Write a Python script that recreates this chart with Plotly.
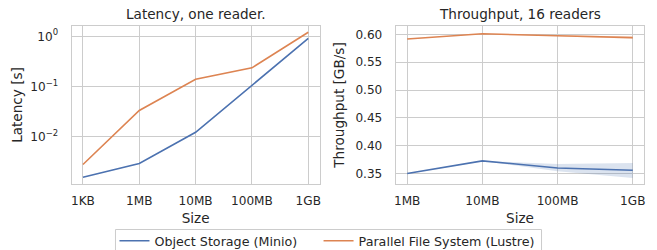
import plotly.graph_objects as go

# ---- data ----
sizes_latency = ["1KB", "1MB", "10MB", "100MB", "1GB"]
lat_minio = [0.00158, 0.00297, 0.0124, 0.106, 0.91]
lat_lustre = [0.00284, 0.0336, 0.14, 0.236, 1.2]

sizes_tp = ["1MB", "10MB", "100MB", "1GB"]
tp_minio = [0.350, 0.3727, 0.360, 0.3558]
tp_minio_lo = [0.350, 0.3727, 0.354, 0.342]
tp_minio_hi = [0.350, 0.3727, 0.367, 0.369]
tp_lustre = [0.5915, 0.601, 0.5975, 0.594]
tp_lustre_lo = [0.5915, 0.601, 0.596, 0.592]
tp_lustre_hi = [0.5915, 0.601, 0.599, 0.596]

names = ["Object Storage (Minio)", "Parallel File System (Lustre)"]
BLUE = "#4c72b0"
ORANGE = "#dd8452"
TXT = "#262626"
GRID = "#cccccc"
W = 657
HF = 264  # figure is taller than the 250px window; the legend bottom is cut like the reference
TICK = 12.1
LAB = 13.6
LEG = 12.7


def fy(px):
    """paper y fraction for a pixel row measured from the top"""
    return 1 - px / HF


fig = go.Figure()

# left panel
fig.add_trace(go.Scatter(x=sizes_latency, y=lat_minio, mode="lines", name=names[0],
                         line=dict(color=BLUE, width=1.6), xaxis="x", yaxis="y",
                         legendgroup="a", legend="legend"))
fig.add_trace(go.Scatter(x=sizes_latency, y=lat_lustre, mode="lines", name=names[1],
                         line=dict(color=ORANGE, width=1.6), xaxis="x", yaxis="y",
                         legendgroup="b", legend="legend2"))

# right panel bands
for lo, hi, col in [(tp_minio_lo, tp_minio_hi, "rgba(76,114,176,0.2)"),
                    (tp_lustre_lo, tp_lustre_hi, "rgba(221,132,82,0.2)")]:
    fig.add_trace(go.Scatter(x=sizes_tp + sizes_tp[::-1], y=hi + lo[::-1],
                             fill="toself", fillcolor=col, line=dict(width=0),
                             mode="lines", showlegend=False, hoverinfo="skip",
                             xaxis="x2", yaxis="y2"))
fig.add_trace(go.Scatter(x=sizes_tp, y=tp_minio, mode="lines", name=names[0],
                         line=dict(color=BLUE, width=1.6), xaxis="x2", yaxis="y2",
                         showlegend=False, legendgroup="a"))
fig.add_trace(go.Scatter(x=sizes_tp, y=tp_lustre, mode="lines", name=names[1],
                         line=dict(color=ORANGE, width=1.6), xaxis="x2", yaxis="y2",
                         showlegend=False, legendgroup="b"))

ax_common = dict(showgrid=True, gridcolor=GRID, gridwidth=1, showline=True,
                 linecolor=GRID, linewidth=1.3, mirror=True, zeroline=False,
                 ticks="outside", tickcolor="rgba(0,0,0,0)",
                 tickfont=dict(size=TICK, color=TXT),
                 title_font=dict(size=LAB, color=TXT))

y_top = fy(25.7)
y_bot = fy(184.3)

leg_common = dict(orientation="h", xanchor="left", y=fy(226), yanchor="top",
                  borderwidth=0, font=dict(size=LEG, color=TXT),
                  bgcolor="rgba(0,0,0,0)")

fig.update_layout(
    width=W, height=HF,
    margin=dict(l=0, r=0, t=0, b=0),
    paper_bgcolor="white", plot_bgcolor="white",
    font=dict(family="DejaVu Sans", color=TXT),
    xaxis=dict(**ax_common, type="category", domain=[70 / W, 319 / W],
               range=[-0.2, 4.2], anchor="y", ticklen=5,
               title=dict(text="Size", standoff=6)),
    yaxis=dict(**ax_common, type="log", domain=[y_bot, y_top],
               range=[-2.94, 0.21], anchor="x", ticklen=10,
               tickvals=[1, 0.1, 0.01],
               ticktext=["10<sup>0</sup>", "10<sup>\u22121</sup>", "10<sup>\u22122</sup>"],
               title=dict(text="Latency [s]", standoff=4)),
    xaxis2=dict(**ax_common, type="category", domain=[395.7 / W, 645 / W],
                range=[-0.15, 3.15], anchor="y2", ticklen=5,
                title=dict(text="Size", standoff=6)),
    yaxis2=dict(**ax_common, domain=[y_bot, y_top], range=[0.3307, 0.6155],
                anchor="x2", ticklen=10, tickvals=[0.35, 0.40, 0.45, 0.50, 0.55, 0.60],
                tickformat=".2f",
                title=dict(text="Throughput [GB/s]", standoff=7)),
    legend=dict(**leg_common, x=113 / W),
    legend2=dict(**leg_common, x=318 / W),
    shapes=[dict(type="rect", xref="paper", yref="paper",
                 x0=114 / W, x1=542 / W, y0=fy(262), y1=fy(229.5),
                 line=dict(color=GRID, width=1), fillcolor="white", layer="below")],
    annotations=[
        dict(text="Latency, one reader.", x=(70 + 319) / 2 / W, y=fy(14),
             xref="paper", yref="paper", showarrow=False,
             font=dict(size=LAB, color=TXT), xanchor="center", yanchor="middle"),
        dict(text="Throughput, 16 readers", x=(395.7 + 645) / 2 / W, y=fy(14),
             xref="paper", yref="paper", showarrow=False,
             font=dict(size=LAB, color=TXT), xanchor="center", yanchor="middle"),
    ],
)

fig.write_html("out.html", config={"displayModeBar": False},
               post_script="document.body.style.margin='0';document.body.style.overflow='hidden';")
